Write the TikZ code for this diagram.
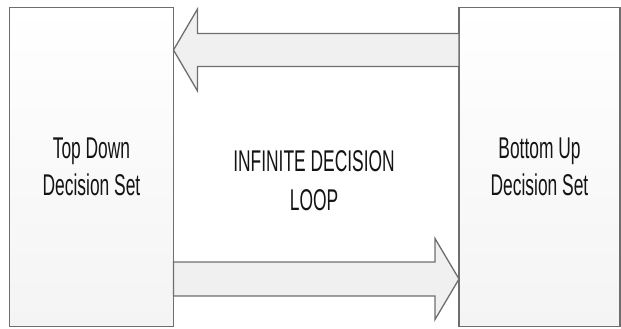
\documentclass[tikz,border=0pt]{standalone}
\usepackage{fontspec}
\usepackage{tikz}
\usetikzlibrary{positioning,calc}
\newfontfamily\narrowsf[FakeStretch=0.58]{Liberation Sans}
\definecolor{ink}     {HTML}{141414}
\definecolor{rim}     {HTML}{6E6E6E}
\definecolor{paper}   {HTML}{F4F4F4}
\definecolor{shaft}   {HTML}{F0F0F0}
\tikzset{
  % --- nodes
  setbox/.style = {rectangle, draw=rim, line width=1.3pt, top color=white,
                   bottom color=paper, align=center, inner sep=0pt, outer sep=0pt,
                   text=ink, font=\narrowsf\fontsize{30}{37}\selectfont},
  caption/.style= {align=center, text=ink, font=\narrowsf\fontsize{30}{39}\selectfont},
  % --- edges
  blockarrow/.style = {draw=rim, line width=1.3pt, fill=shaft, line join=miter},
}
\begin{document}
\begin{tikzpicture}[x=1pt,y=-1pt]
  \useasboundingbox (0,0) rectangle (621,329);
  \node[setbox, minimum width=164pt, minimum height=319pt] (tdset) at (91.5,167)
    {Top Down\\Decision Set};
  \node[setbox, minimum width=161pt, minimum height=319pt] (buset) at (539.5,167)
    {Bottom Up\\Decision Set};
  \node[caption] (loop) at (314,181) {INFINITE DECISION\\LOOP};
  % upper arrow: bottom up -> top down
  \coordinate (uptip) at (tdset.east |- 0,50);
  \coordinate (upend) at (buset.west |- 0,50);
  \draw[blockarrow] (uptip) -- ($(uptip)+(24,-41)$) -- ($(uptip)+(24,-16.5)$)
    -- ($(upend)+(0,-16.5)$) -- ($(upend)+(0,16.5)$) -- ($(uptip)+(24,16.5)$)
    -- ($(uptip)+(24,41)$) -- cycle;
  % lower arrow: top down -> bottom up
  \coordinate (lowtip) at (buset.west |- 0,279);
  \coordinate (lowend) at (tdset.east |- 0,279);
  \draw[blockarrow] (lowtip) -- ($(lowtip)+(-24,-40.5)$) -- ($(lowtip)+(-24,-17)$)
    -- ($(lowend)+(0,-17)$) -- ($(lowend)+(0,17)$) -- ($(lowtip)+(-24,17)$)
    -- ($(lowtip)+(-24,40.5)$) -- cycle;
\end{tikzpicture}
\end{document}
